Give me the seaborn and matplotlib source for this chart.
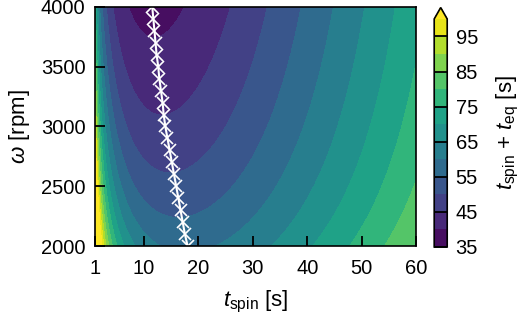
import numpy as np
import matplotlib
matplotlib.use("Agg")
import matplotlib.pyplot as plt
import seaborn as sns

# optimum spin time
omega_opt = [2000, 2100, 2200, 2300, 2400, 2500, 2600, 2700, 2800, 2900, 3000,
             3100, 3200, 3300, 3400, 3500, 3600, 3700, 3800, 3900, 4000]
t_opt = [18.0, 17.5, 17.1, 16.7, 16.3, 15.9, 15.5, 15.1, 14.7, 14.3, 13.9,
         13.6, 13.4, 13.1, 12.8, 12.6, 12.3, 12.1, 11.9, 11.7, 11.5]

# equilibration-time model t_eq = C * (omega/4000)^-a * t_spin^-b
teq_coef = [75.0, 0.88, 0.42]   # C, a, b

contour_levels = list(range(35, 101, 5))
cbar_ticks = [35, 45, 55, 65, 75, 85, 95]
x_ticks = [1, 10, 20, 30, 40, 50, 60]
y_ticks = [2000, 2500, 3000, 3500, 4000]

sns.set_style("ticks")
plt.rcParams["font.family"] = ["Liberation Sans", "DejaVu Sans"]
plt.rcParams["mathtext.fontset"] = "custom"
plt.rcParams["mathtext.rm"] = "Liberation Sans"
plt.rcParams["mathtext.it"] = "Liberation Sans:italic"
for k in ["text.color", "axes.labelcolor", "xtick.color", "ytick.color", "axes.edgecolor"]:
    plt.rcParams[k] = "black"

# grid for the contour map
t_grid = np.linspace(1, 60, 300)
w_grid = np.linspace(2000, 4000, 300)
T, W = np.meshgrid(t_grid, w_grid)
C, a, b = teq_coef
total = T + C * (W / 4000.0) ** (-a) * T ** (-b)

fig = plt.figure(figsize=(5.2, 3.15), dpi=100)
ax = fig.add_axes([0.183, 0.219, 0.617, 0.759])
cax = fig.add_axes([0.835, 0.216, 0.025, 0.760])

cmap = sns.color_palette("viridis", as_cmap=True)
cs = ax.contourf(T, W, total, levels=contour_levels, cmap=cmap, extend="max")

sns.lineplot(x=t_opt, y=omega_opt, sort=False, ax=ax, color="white", lw=1.5,
             marker="x", markersize=9, mew=1.2, mec="white", legend=False)

ax.set_axisbelow(False)
ax.set_xlim(1, 60)
ax.set_ylim(2000, 4000)
ax.set_xticks(x_ticks)
ax.set_yticks(y_ticks)
ax.tick_params(direction="in", length=7, width=1.3, labelsize=14.5, pad=7)
ax.tick_params(axis="x", pad=9)
for sp in ax.spines.values():
    sp.set_linewidth(1.2)
ax.set_xlabel(r"$t_\mathrm{spin}$ [s]", fontsize=16, labelpad=8)
ax.set_ylabel(r"$\omega$ [rpm]", fontsize=16, labelpad=6)

cb = fig.colorbar(cs, cax=cax, ticks=cbar_ticks)
cax.set_axisbelow(False)
cb.outline.set_linewidth(1.2)
cax.tick_params(direction="in", length=9.5, width=1.3, labelsize=14.5, pad=6)
cb.set_label(r"$t_\mathrm{spin}$ + $t_\mathrm{eq}$ [s]", fontsize=16, labelpad=12)

fig.savefig("out.png", dpi=100)
